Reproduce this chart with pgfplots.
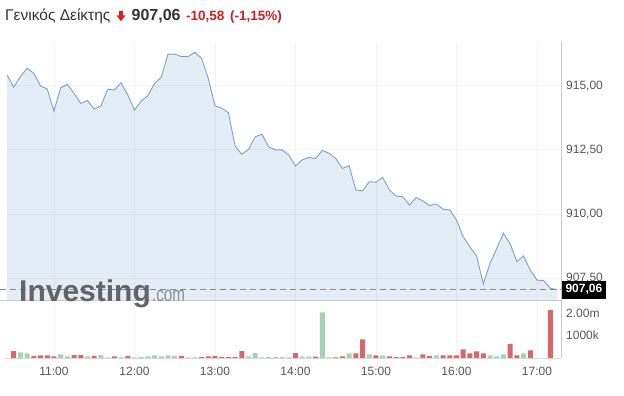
\documentclass[border=0pt]{standalone}
\usepackage{fontspec}
\setmainfont{Liberation Sans}
\usepackage{graphicx}
\usepackage{pgfplots}
\usepackage{pgfplotstable}
\pgfplotsset{compat=1.18}
\definecolor{linec}{RGB}{122,162,200}
\definecolor{fillc}{RGB}{228,237,246}
\definecolor{tickc}{RGB}{85,85,85}
\definecolor{titlec}{RGB}{51,51,51}
\definecolor{redc}{RGB}{200,30,40}
\definecolor{arrowc}{RGB}{222,30,30}
\definecolor{barred}{RGB}{217,102,104}
\definecolor{bargreen}{RGB}{163,211,177}
\definecolor{sepc}{RGB}{200,200,200}
\definecolor{dashc}{RGB}{135,135,135}
\definecolor{logoc}{RGB}{100,100,100}
\definecolor{logoc2}{RGB}{140,140,140}

% minutes after 10:00, index value
\pgfplotstableread{
t v
25 915.42
30 914.94
35 915.35
40 915.68
45 915.48
50 914.99
55 914.87
60 914.01
65 914.92
70 915.05
75 914.70
80 914.31
85 914.42
90 914.09
95 914.21
100 914.86
105 914.83
110 915.12
115 914.64
120 914.05
125 914.40
130 914.61
135 915.09
140 915.33
145 916.23
150 916.23
155 916.13
160 916.13
165 916.30
170 916.07
175 915.29
180 914.22
185 914.12
190 913.95
195 912.65
200 912.33
205 912.52
210 913.01
215 913.11
220 912.62
225 912.50
230 912.50
235 912.30
240 911.87
245 912.11
250 912.21
255 912.16
260 912.48
265 912.37
270 912.17
275 911.78
280 911.88
285 910.94
290 910.90
295 911.26
300 911.24
305 911.43
310 910.94
315 910.70
320 910.68
325 910.35
330 910.65
335 910.51
340 910.33
345 910.39
350 910.19
355 910.16
360 909.77
365 909.12
370 908.73
375 908.37
380 907.28
385 908.08
390 908.67
395 909.25
400 908.84
405 908.15
410 908.37
415 907.82
420 907.43
425 907.41
430 907.11
435 907.06
}\price

% volume in millions
\pgfplotstableread{
t v
30 0.31
45 0.09
50 0.12
55 0.12
60 0.07
75 0.13
80 0.13
90 0.09
105 0.07
115 0.09
155 0.09
170 0.04
175 0.07
180 0.09
185 0.04
190 0.04
195 0.04
200 0.31
235 0.02
240 0.22
255 0.06
265 0.02
270 0.03
275 0.07
285 0.21
290 0.83
300 0.12
310 0.07
315 0.04
320 0.04
325 0.12
335 0.16
340 0.09
350 0.12
355 0.12
360 0.12
365 0.39
370 0.21
375 0.30
380 0.21
400 0.63
405 0.12
415 0.34
430 2.14
}\volred

\pgfplotstableread{
t v
35 0.25
40 0.21
65 0.16
70 0.07
85 0.07
95 0.13
100 0.03
110 0.03
120 0.03
125 0.04
130 0.07
135 0.12
140 0.07
145 0.12
150 0.09
160 0.03
165 0.03
205 0.07
210 0.22
215 0.03
220 0.04
225 0.04
230 0.04
245 0.06
250 0.06
260 2.04
280 0.21
295 0.16
305 0.12
330 0.03
345 0.12
385 0.12
390 0.07
395 0.16
410 0.21
}\volgreen

\begin{document}
\begin{tikzpicture}
\useasboundingbox (0pt,0pt) rectangle (624pt,396pt);

% price panel
\begin{axis}[
  at={(7pt,96pt)}, anchor=south west, scale only axis,
  width=554pt, height=258pt,
  xmin=25, xmax=437.9, ymin=906.655, ymax=916.70,
  axis line style={draw=none}, major tick length=0pt,
  xtick={60,120,180,240,300,360,420}, xticklabels={},
  ytick={907.5,910,912.5,915},
  yticklabels={{907,50},{910,00},{912,50},{915,00}},
  yticklabel pos=right,
  yticklabel style={anchor=west, inner sep=0pt, xshift=5pt,
    font=\fontsize{12}{14}\selectfont, text=tickc},
  grid=major, grid style={draw=black, opacity=0.045, line width=0.8pt},
  axis on top,
  /pgf/number format/assume math mode=true,
]
\addplot[draw=none, fill=fillc] table[x=t,y=v]{\price} \closedcycle;
\addplot[linec, line width=0.9pt] table[x=t,y=v]{\price};
\coordinate (dl) at (axis cs:25,907.06);
\coordinate (dr) at (axis cs:437.9,907.06);
\end{axis}

% volume panel
\begin{axis}[
  at={(7pt,38pt)}, anchor=south west, scale only axis,
  width=554pt, height=58pt,
  xmin=25, xmax=437.9, ymin=0, ymax=2.589,
  axis line style={draw=none}, major tick length=0pt,
  xtick={60,120,180,240,300,360,420},
  xticklabels={11:00,12:00,13:00,14:00,15:00,16:00,17:00},
  xticklabel style={anchor=north, inner sep=0pt, yshift=-8.5pt,
    font=\fontsize{12}{14}\selectfont, text=tickc},
  ytick={1,2}, yticklabels={1000k,2.00m},
  yticklabel pos=right,
  yticklabel style={anchor=west, inner sep=0pt, xshift=5pt,
    font=\fontsize{12}{14}\selectfont, text=tickc},
  xmajorgrids, grid style={draw=black, opacity=0.045, line width=0.8pt},
  /pgf/number format/assume math mode=true,
]
\addplot[ybar, bar width=5pt, bar shift=0pt, fill=barred, draw=none] table[x=t,y=v]{\volred};
\addplot[ybar, bar width=5pt, bar shift=0pt, fill=bargreen, draw=none] table[x=t,y=v]{\volgreen};
\end{axis}

% frame lines
\draw[sepc, line width=0.8pt] (0pt,96pt) -- (561pt,96pt);
\draw[sepc!70, line width=0.8pt] (5pt,38pt) -- (561pt,38pt);
\draw[sepc, line width=0.8pt] (561pt,38pt) -- (561pt,354pt);

% last price line
\draw[dashc, line width=1.6pt, dash pattern=on 6pt off 4pt] ([xshift=-7pt]dl) -- (dr);

% logo
\node[anchor=base west, inner sep=0pt, text=logoc] at (19pt,94.3pt)
  {\fontsize{30}{30}\selectfont\bfseries Investing};
\node[anchor=base west, inner sep=0pt, text=logoc2] at (152pt,94.3pt)
  {\scalebox{0.72}[1]{\fontsize{21}{21}\selectfont .com}};

% last price box
\node[fill=black, text=white, anchor=west, inner xsep=3.8pt, inner ysep=0pt,
  minimum height=18pt, font=\fontsize{12}{12}\selectfont\bfseries] at ([xshift=0.5pt]dr) {907,06};

% title
\node[anchor=base west, inner sep=0pt, text=titlec] at (5pt,375.5pt)
  {\fontsize{15.5}{16}\selectfont Γενικός Δείκτης};
\fill[arrowc] (119.2pt,385pt) -- (122.8pt,385pt) -- (122.8pt,380.5pt) -- (125.5pt,380.5pt)
  -- (121pt,374.8pt) -- (116.5pt,380.5pt) -- (119.2pt,380.5pt) -- cycle;
\node[anchor=base west, inner sep=0pt, text=titlec] at (131.5pt,375.5pt)
  {\fontsize{16}{16}\selectfont\bfseries 907,06};
\node[anchor=base west, inner sep=0pt, text=redc] at (186pt,375.5pt)
  {\fontsize{13.5}{14}\selectfont\bfseries -10,58};
\node[anchor=base west, inner sep=0pt, text=redc] at (230pt,375.5pt)
  {\fontsize{13.5}{14}\selectfont\bfseries (-1,15\%)};
\end{tikzpicture}
\end{document}
